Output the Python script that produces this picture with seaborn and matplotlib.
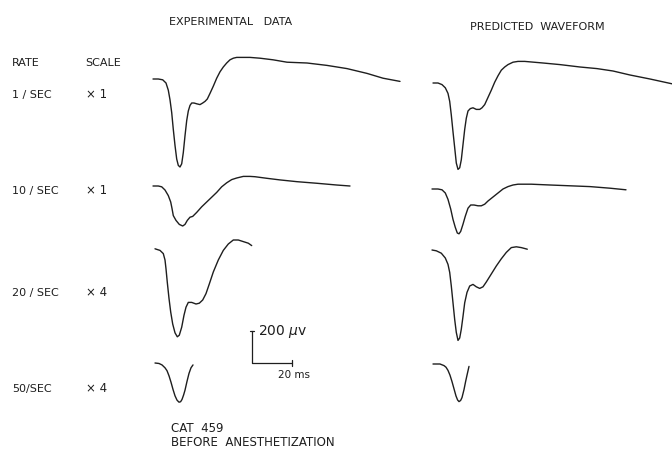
import pandas as pd
import seaborn as sns
import matplotlib.pyplot as plt

# stimulation rates and display gain
rates = ["1 / SEC", "10 / SEC", "20 / SEC", "50/SEC"]
scales = ["× 1", "× 1", "× 4", "× 4"]

# waveforms: time in ms, amplitude in uV (displayed gain)
exp_t = [
    [0, 2.65, 4.85, 6.5, 7.65, 8.5, 9.35, 10.15, 11, 11.85, 12.65, 13.5, 14.35, 15.15, 16,
     16.85, 17.65, 18.5, 19.35, 20.5, 21.85, 23.5, 24.85, 26, 27.15, 28.5, 30.15, 31.85,
     33.5, 35.15, 36.85, 38.5, 40.15, 41.85, 45.15, 48.5, 53.5, 60, 67, 77, 87, 97, 107,
     115, 123.5],
    [0, 2.65, 4.35, 6, 7.65, 8.85, 9.5, 10.15, 11.5, 13.15, 14.85, 16, 17.15, 18.5, 19.85,
     21.85, 24.35, 26.85, 29.35, 31.85, 34.35, 36.85, 39.35, 41.85, 45.15, 48.5, 51, 57,
     63.5, 72, 82, 92, 98.5],
    [0, 2.5, 4.15, 5, 5.5, 6.15, 7, 7.85, 8.85, 10, 11.15, 12.15, 13.35, 14.5, 15.5, 16.65,
     18.35, 20.5, 22.15, 23.85, 25.5, 27.15, 29.15, 31.65, 34.15, 36.65, 39.15, 41.65,
     44.15, 46.65, 48.35],
    [0, 2, 3.5, 5, 6, 7, 8, 9, 10, 11, 12, 12.8, 13.5, 14.3, 15, 16, 17, 18, 19],
]
exp_uv = [
    [0, 0, -5, -25, -70, -130, -210, -315, -415, -500, -540, -550, -530, -460, -355, -260,
     -200, -165, -150, -150, -155, -160, -150, -140, -125, -90, -45, 5, 45, 75, 100, 120,
     130, 135, 135, 135, 130, 120, 105, 100, 85, 65, 35, 5, -15],
    [0, 0, -5, -25, -60, -100, -140, -185, -215, -240, -250, -240, -215, -195, -190, -165,
     -130, -100, -70, -40, -5, 20, 40, 50, 60, 60, 58, 48, 38, 27, 17, 6, 0],
    [-5, -15, -35, -75, -130, -215, -315, -400, -475, -530, -555, -545, -495, -420, -370,
     -340, -340, -350, -345, -325, -285, -225, -150, -75, -15, 25, 50, 50, 40, 30, 15],
    [0, -3, -12, -30, -48, -80, -120, -165, -205, -232, -245, -242, -228, -200, -170, -115,
     -65, -30, -12],
]
pred_t = [
    [0, 2.5, 4.5, 6.15, 7.5, 8.35, 9.15, 10, 10.85, 11.65, 12.5, 13.35, 14.15, 15, 15.85,
     16.65, 17.5, 18.65, 20, 21.65, 23.35, 24.5, 25.85, 27.5, 29.15, 30.85, 32.5, 34.15,
     35.85, 37.5, 40, 42.5, 45.85, 55, 63.5, 73.5, 82, 90, 98.5, 108.5, 119.5],
    [0, 3, 5, 6.65, 8, 9.35, 10.5, 11.65, 12.65, 13.5, 14.35, 15.5, 16.65, 18, 19.35, 21,
     23, 24.65, 26.35, 28, 30.5, 33, 35.5, 38, 40.5, 43, 46.35, 49.65, 59, 69, 79, 89, 97],
    [0, 2.15, 4.65, 6.65, 8, 8.85, 9.65, 10.5, 11.35, 12.15, 13, 13.85, 14.65, 15.5, 16.35,
     17.5, 18.85, 20.5, 22.15, 23.85, 25.5, 27.15, 29.65, 32.15, 34.65, 37.15, 39.65,
     42.15, 44.65, 47.65],
    [0, 3.5, 5.5, 6.5, 7.5, 8.5, 9.5, 10.5, 11.5, 12.3, 13, 13.8, 14.5, 15.5, 16.3, 17, 18],
]
pred_uv = [
    [0, 0, -10, -30, -65, -115, -200, -305, -405, -500, -540, -530, -480, -385, -290, -220,
     -175, -160, -155, -165, -165, -155, -135, -90, -45, 5, 45, 80, 100, 115, 130, 135, 135,
     125, 115, 100, 90, 75, 50, 25, -5],
    [0, 0, -5, -25, -65, -125, -190, -240, -275, -280, -265, -220, -170, -120, -100, -100,
     -105, -105, -95, -75, -50, -25, 0, 15, 25, 30, 30, 30, 25, 20, 15, 5, -5],
    [0, -5, -20, -50, -90, -140, -225, -330, -435, -515, -565, -550, -495, -415, -330, -265,
     -225, -215, -230, -240, -230, -200, -150, -100, -55, -15, 15, 20, 15, 5],
    [0, 0, -10, -20, -40, -70, -110, -155, -200, -225, -235, -228, -210, -160, -110, -70,
     -15],
]

# calibration bar
cal_ms = 20
cal_uv = 200

# layout (figure pixels)
px_per_ms = 2.0
px_per_uv = 0.16
exp_origin = [(153, 79), (153, 186), (155, 248), (155, 363)]
pred_origin = [(433, 83), (432, 189), (432, 250), (433, 364)]
row_y = [95, 191, 293, 389]
ink = "#1e1e1e"

rows = []
for col, ts, vs, origins in [("exp", exp_t, exp_uv, exp_origin),
                             ("pred", pred_t, pred_uv, pred_origin)]:
    for i in range(4):
        x0, y0 = origins[i]
        for t, v in zip(ts[i], vs[i]):
            rows.append({"trace": f"{col}{i}", "px": x0 + t * px_per_ms,
                         "py": y0 - v * px_per_uv})
df = pd.DataFrame(rows)

sns.set_style("white")
plt.rcParams["font.family"] = ["DejaVu Sans"]

fig = plt.figure(figsize=(6.72, 4.51), dpi=100)
ax = fig.add_axes([0, 0, 1, 1])
sns.lineplot(data=df, x="px", y="py", units="trace", estimator=None, sort=False,
             color=ink, linewidth=1.0, ax=ax)
for line in ax.lines:
    line.set_solid_joinstyle("round")
    line.set_solid_capstyle("round")
ax.set_xlim(0, 672)
ax.set_ylim(451, 0)
ax.axis("off")

# calibration bar
bx, by = 252, 363
bh = cal_uv * px_per_uv
bw = cal_ms * px_per_ms
ax.plot([bx, bx, bx + bw], [by - bh, by, by], color=ink, lw=0.9)
ax.plot([bx - 2, bx + 2], [by - bh, by - bh], color=ink, lw=0.9)
ax.plot([bx + bw, bx + bw], [by - 3, by + 3], color=ink, lw=0.9)
ax.text(bx + 6, by - bh, f"{cal_uv} $\\mu$v", fontsize=10, color=ink, va="center")
ax.text(bx + bw - 14, by + 12, f"{cal_ms} ms", fontsize=7.5, color=ink, va="center")

txt = dict(fontsize=8, color=ink, va="center")
ax.text(169, 22, "EXPERIMENTAL   DATA", **txt)
ax.text(470, 27, "PREDICTED  WAVEFORM", **txt)
ax.text(12, 63, "RATE", **txt)
ax.text(85, 63, "SCALE", **txt)
for r, s, y in zip(rates, scales, row_y):
    ax.text(12, y, r, **txt)
    ax.text(86, y - 1, s, fontsize=8.5, color=ink, va="center")
ax.text(171, 428, "CAT  459", fontsize=8.5, color=ink, va="center")
ax.text(171, 442, "BEFORE  ANESTHETIZATION", fontsize=8.5, color=ink, va="center")

fig.savefig("out.png", dpi=100)
